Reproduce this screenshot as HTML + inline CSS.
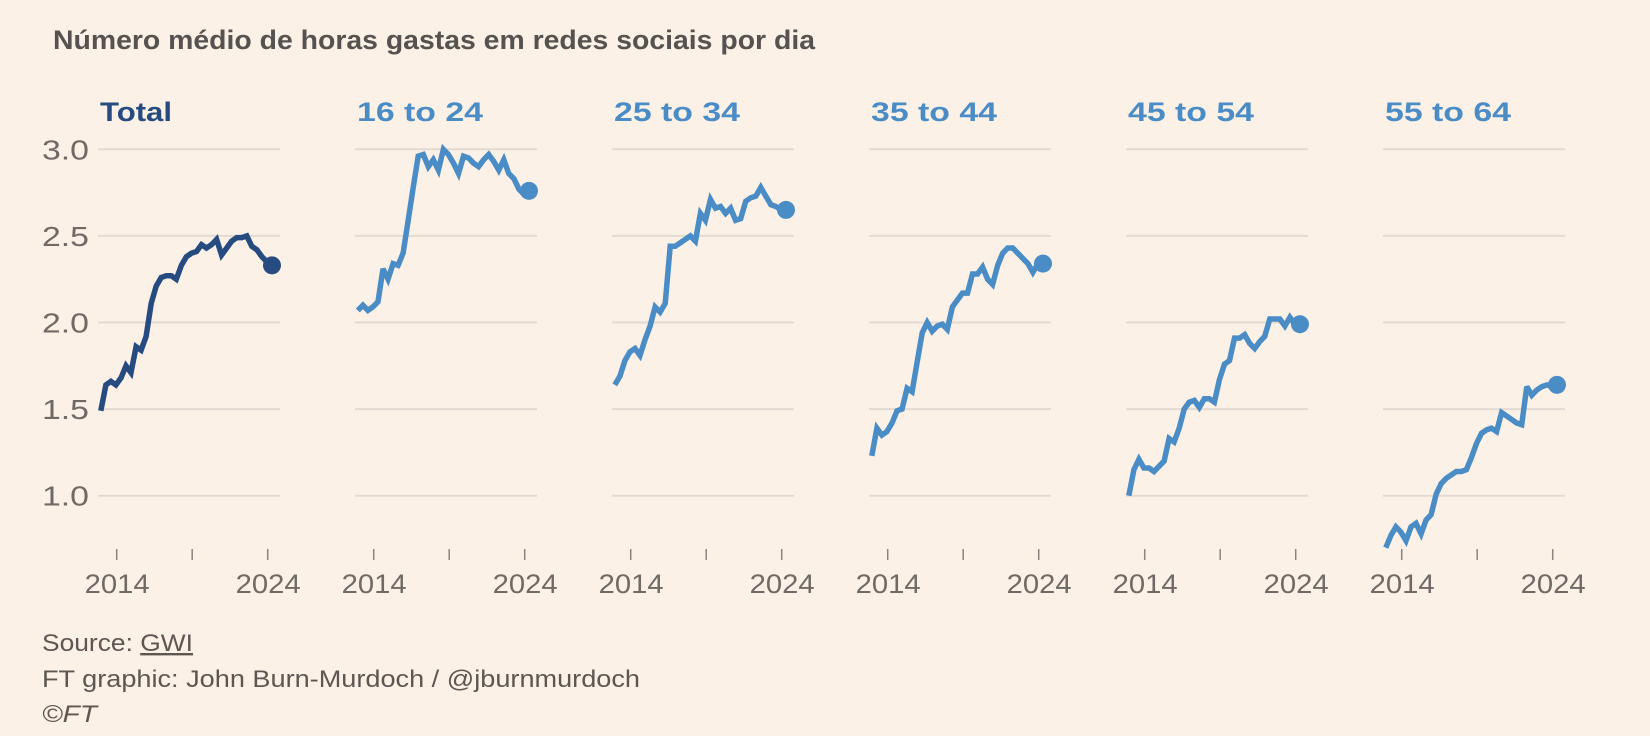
<!DOCTYPE html>
<html><head><meta charset="utf-8"><style>
html,body{margin:0;padding:0;background:#fcf1e6;}
svg{display:block;font-family:"Liberation Sans",sans-serif;}
</style></head><body>
<svg id="chart" width="1650" height="736" viewBox="0 0 1650 736">
<rect x="0" y="0" width="1650" height="736" fill="#fcf1e6"/>
<text x="53" y="49" font-size="27" font-weight="bold" fill="#555250" textLength="762" lengthAdjust="spacingAndGlyphs">Número médio de horas gastas em redes sociais por dia</text>
<g id="panels"></g>
<text x="42" y="651" font-size="24" fill="#5c5753" textLength="151" lengthAdjust="spacingAndGlyphs">Source: <tspan text-decoration="underline">GWI</tspan></text>
<text x="42" y="687" font-size="24" fill="#5c5753" textLength="598" lengthAdjust="spacingAndGlyphs">FT graphic: John Burn-Murdoch / @jburnmurdoch</text>
<text x="42" y="722" font-size="24" font-style="italic" fill="#5c5753" textLength="55" lengthAdjust="spacingAndGlyphs">©FT</text>
</svg>
<script>
const panelTitles = ["Total","16 to 24","25 to 34","35 to 44","45 to 54","55 to 64"];
const yTicks = [1.0,1.5,2.0,2.5,3.0];
const yTickLabels = ["1.0","1.5","2.0","2.5","3.0"];
const xTicks = [2014,2019,2024];
const xTickLabels = ["2014","","2024"];
const startYear = 2012.95;
const stepYears = 1/3;
const seriesTotal = [1.49,1.64,1.66,1.64,1.68,1.75,1.71,1.86,1.84,1.92,2.11,2.21,2.26,2.27,2.27,2.25,2.33,2.38,2.40,2.41,2.45,2.43,2.45,2.48,2.39,2.43,2.47,2.49,2.49,2.50,2.44,2.42,2.38,2.35,2.33];
const series16to24 = [2.07,2.10,2.07,2.09,2.12,2.31,2.25,2.34,2.33,2.40,2.59,2.78,2.96,2.97,2.90,2.94,2.88,3.00,2.97,2.92,2.86,2.96,2.95,2.92,2.90,2.94,2.97,2.93,2.88,2.94,2.86,2.83,2.77,2.74,2.76];
const series25to34 = [1.64,1.69,1.78,1.83,1.85,1.81,1.90,1.98,2.09,2.06,2.11,2.44,2.44,2.46,2.48,2.50,2.47,2.63,2.59,2.71,2.66,2.67,2.63,2.66,2.59,2.60,2.70,2.72,2.73,2.78,2.73,2.68,2.67,2.65,2.65];
const series35to44 = [1.23,1.39,1.35,1.37,1.42,1.49,1.50,1.62,1.60,1.77,1.94,2.00,1.95,1.98,1.99,1.96,2.09,2.13,2.17,2.17,2.28,2.28,2.32,2.25,2.22,2.33,2.40,2.43,2.43,2.40,2.37,2.34,2.29,2.34,2.34];
const series45to54 = [1.00,1.15,1.21,1.16,1.16,1.14,1.17,1.20,1.33,1.31,1.39,1.50,1.54,1.55,1.51,1.56,1.56,1.54,1.67,1.76,1.78,1.91,1.91,1.93,1.88,1.85,1.89,1.92,2.02,2.02,2.02,1.98,2.03,1.99,1.99];
const series55to64 = [0.70,0.77,0.82,0.79,0.74,0.82,0.84,0.78,0.86,0.89,1.01,1.07,1.10,1.12,1.14,1.14,1.15,1.22,1.30,1.36,1.38,1.39,1.37,1.48,1.46,1.44,1.42,1.41,1.63,1.58,1.61,1.63,1.64,1.63,1.64];
const allSeries = [seriesTotal,series16to24,series25to34,series35to44,series45to54,series55to64];

const NS = "http://www.w3.org/2000/svg";
const g = document.getElementById("panels");
const panelX0 = 98, panelGap = 257, panelW = 182;
function yScale(v){ return 149.3 + (3 - v) * 173.2; }
function xScale(p, yr){ return panelX0 + p*panelGap + 18.7 + (yr - 2014) * 15.1; }
function mk(tag, attrs){ const e = document.createElementNS(NS, tag); for (const k in attrs) e.setAttribute(k, attrs[k]); return e; }

allSeries.forEach((vals, p) => {
  const gx = panelX0 + p*panelGap;
  const pg = mk("g", {});
  
  
  g.appendChild(pg);
  const col = p === 0 ? "#264b80" : "#4a8cc6";
  const t = mk("text", {x: gx+2, y: 121, "font-size": 27, "font-weight": "bold", fill: col, textLength: p === 0 ? 72 : 126, lengthAdjust: "spacingAndGlyphs"});
  t.textContent = panelTitles[p];
  
  
  pg.appendChild(t);
  yTicks.forEach((v, i) => {
    const l = mk("line", {x1: gx, x2: gx+panelW, y1: yScale(v), y2: yScale(v), stroke: "#e3dbd3", "stroke-width": 2});
    
    
    pg.appendChild(l);
    if (p === 0) {
      const yl = mk("text", {x: 89, y: yScale(v)+10, "font-size": 28, fill: "#6f6a66", "text-anchor": "end", textLength: 47, lengthAdjust: "spacingAndGlyphs"});
      yl.textContent = yTickLabels[i];
      
      
      pg.appendChild(yl);
    }
  });
  xTicks.forEach((yr, i) => {
    const x = xScale(p, yr);
    const tk = mk("line", {x1: x, x2: x, y1: 549, y2: 560, stroke: "#8a8480", "stroke-width": 1.5});
    
    
    pg.appendChild(tk);
    if (xTickLabels[i]) {
      const xl = mk("text", {x: x - 32, y: 593, "font-size": 27, fill: "#6f6a66", textLength: 65, lengthAdjust: "spacingAndGlyphs"});
      xl.textContent = xTickLabels[i];
      
      
      pg.appendChild(xl);
    }
  });
  const pts = vals.map((v, i) => xScale(p, startYear + i*stepYears).toFixed(1) + "," + yScale(v).toFixed(1));
  const line = mk("polyline", {points: pts.join(" "), fill: "none", stroke: col, "stroke-width": 5.5, "stroke-linejoin": "miter", "stroke-miterlimit": 3});
  
  
  pg.appendChild(line);
  const last = vals.length - 1;
  const dot = mk("circle", {cx: xScale(p, startYear + last*stepYears), cy: yScale(vals[last]), r: 9, fill: col});
  
  
  pg.appendChild(dot);
});
</script>
</body></html>
